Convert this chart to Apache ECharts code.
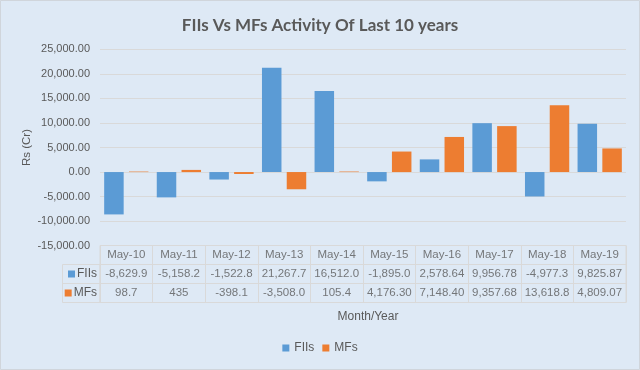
<!DOCTYPE html>
<html>
<head>
<meta charset="utf-8">
<script src="https://cdn.jsdelivr.net/npm/echarts@6/dist/echarts.min.js"></script>
<style>
html,body{margin:0;padding:0;background:#fff;}
#c{width:640px;height:370px;}
</style>
</head>
<body>
<div id="c"></div>
<script>
var categories = ['May-10','May-11','May-12','May-13','May-14','May-15','May-16','May-17','May-18','May-19'];
var fiis = [-8629.9, -5158.2, -1522.8, 21267.7, 16512.0, -1895.0, 2578.64, 9956.78, -4977.3, 9825.87];
var mfs = [98.7, 435, -398.1, -3508.0, 105.4, 4176.30, 7148.40, 9357.68, 13618.8, 4809.07];
var fiisText = ['-8,629.9','-5,158.2','-1,522.8','21,267.7','16,512.0','-1,895.0','2,578.64','9,956.78','-4,977.3','9,825.87'];
var mfsText = ['98.7','435','-398.1','-3,508.0','105.4','4,176.30','7,148.40','9,357.68','13,618.8','4,809.07'];
var rows = ['hdr','FIIs','MFs'];

var BLUE = '#5b9bd5', ORANGE = '#ed7d31', TXT = '#595959', GRID = '#d9d9d9';
var FONT = 'Liberation Sans';

var tableData = [];
categories.forEach(function(c,i){
  tableData.push({value:[c,'hdr'], t:c});
  tableData.push({value:[c,'FIIs'], t:fiisText[i]});
  tableData.push({value:[c,'MFs'], t:mfsText[i]});
});

var chart = echarts.init(document.getElementById('c'), null, {renderer:'canvas'});
chart.setOption({
  backgroundColor: '#dee9f5',
  animation: false,
  title: [{
    text: 'FIIs Vs MFs Activity Of Last 10 years',
    left: 'center', top: 12,
    textStyle: {color: TXT, fontSize: 17, fontWeight: 'bold', fontFamily: 'Lato'}
  },{
    text: 'Month/Year',
    left: 363, top: 306, textAlign: 'center',
    textStyle: {color: TXT, fontSize: 12, fontWeight: 'normal', fontFamily: FONT}
  }],
  legend: {
    data: ['FIIs','MFs'],
    bottom: 11, left: 'center',
    icon: 'rect', itemWidth: 7, itemHeight: 7, itemGap: 8,
    textStyle: {color: TXT, fontSize: 12, fontFamily: FONT}
  },
  grid: [
    {left: 100, right: 14, top: 49.3, height: 196.4},
    {left: 100, right: 14, top: 245.5, height: 57, show: true, borderColor: GRID, borderWidth: 1}
  ],
  xAxis: [
    {type:'category', gridIndex:0, data: categories, axisLine:{show:false}, axisTick:{show:false}, axisLabel:{show:false}},
    {type:'category', gridIndex:1, data: categories, position:'top', axisLine:{show:false}, axisTick:{show:false}, axisLabel:{show:false},
     splitLine:{show:true, lineStyle:{color:GRID, width:1}}}
  ],
  yAxis: [
    {type:'value', gridIndex:0, min:-15000, max:25000, interval:5000,
     name:'Rs (Cr)', nameLocation:'middle', nameGap:67, nameRotate:90, nameMoveOverlap:false,
     nameTextStyle:{color:TXT, fontSize:11.5, fontFamily:FONT},
     axisLine:{show:false}, axisTick:{show:false},
     axisLabel:{color:TXT, fontSize:11, fontFamily:FONT, margin:10,
       formatter:function(v){return v.toLocaleString('en-US',{minimumFractionDigits:2, maximumFractionDigits:2});}},
     splitLine:{lineStyle:{color:GRID, width:1}}},
    {type:'category', gridIndex:1, data: rows, inverse:true,
     axisLine:{show:false}, axisTick:{show:false},
     splitLine:{show:true, lineStyle:{color:GRID, width:1}},
     axisLabel:{margin:3, align:'right', fontFamily:FONT, fontSize:12, color:TXT,
       formatter:function(v){ if(v==='hdr') return ''; return (v==='FIIs'?'{b|}':'{o|}')+'{t|'+v+'}';},
       rich:{
         b:{backgroundColor:BLUE, width:7, height:7},
         o:{backgroundColor:ORANGE, width:7, height:7},
         t:{color:TXT, fontSize:12, fontFamily:FONT, padding:[0,0,0,2]}
       }}}
  ],
  graphic: [
    {type:'rect', shape:{x:0.5, y:0.5, width:639, height:369}, style:{fill:'none', stroke:'#d0d5db', lineWidth:1}, silent:true},
    {type:'rect', shape:{x:62.5, y:264.5, width:37.5, height:38}, style:{fill:'none', stroke:GRID, lineWidth:1}, silent:true},
    {type:'line', shape:{x1:62.5, y1:283.5, x2:100, y2:283.5}, style:{stroke:GRID, lineWidth:1}, silent:true}
  ],
  series: [
    {name:'FIIs', type:'bar', xAxisIndex:0, yAxisIndex:0, data: fiis, barWidth:19.5, barGap:'27%', itemStyle:{color:BLUE}},
    {name:'MFs', type:'bar', xAxisIndex:0, yAxisIndex:0, data: mfs, barWidth:19.5, barGap:'27%', itemStyle:{color:ORANGE}},
    {name:'table', type:'scatter', xAxisIndex:1, yAxisIndex:1, data: tableData, symbolSize:0, silent:true,
     label:{show:true, position:'inside', color:TXT, fontSize:11.5, fontFamily:FONT,
       formatter:function(p){return p.data.t;}}}
  ]
});
</script>
</body>
</html>
